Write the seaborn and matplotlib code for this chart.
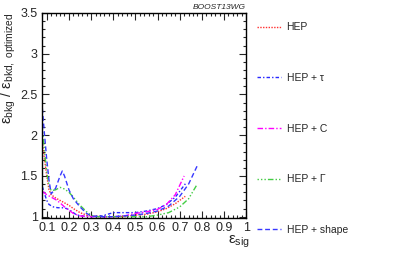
import matplotlib
matplotlib.use("Agg")
import matplotlib.pyplot as plt
import pandas as pd
import seaborn as sns
from matplotlib.ticker import MultipleLocator, FormatStrFormatter

# data (efficiency ratio vs signal efficiency)
hep_x = [0.08, 0.09, 0.10, 0.11, 0.12, 0.14, 0.16, 0.18, 0.20, 0.22, 0.25, 0.28, 0.30,
         0.35, 0.40, 0.45, 0.50, 0.55, 0.60, 0.64, 0.68, 0.725]
hep_y = [1.92, 1.70, 1.50, 1.33, 1.27, 1.23, 1.20, 1.17, 1.14, 1.10, 1.05, 1.02, 1.01,
         1.00, 1.00, 1.00, 1.02, 1.03, 1.06, 1.10, 1.16, 1.25]

tau_x = [0.08, 0.09, 0.10, 0.11, 0.13, 0.15, 0.17, 0.19, 0.21, 0.23, 0.25, 0.30, 0.35,
         0.40, 0.45, 0.50, 0.55, 0.60, 0.64, 0.68, 0.73]
tau_y = [1.37, 1.28, 1.20, 1.15, 1.12, 1.11, 1.11, 1.10, 1.07, 1.03, 1.01, 1.00, 1.01,
         1.05, 1.05, 1.05, 1.07, 1.10, 1.15, 1.24, 1.42]

c_x = [0.08, 0.10, 0.12, 0.14, 0.16, 0.18, 0.20, 0.22, 0.25, 0.30, 0.35, 0.40, 0.45,
       0.50, 0.55, 0.60, 0.64, 0.68, 0.72]
c_y = [1.31, 1.27, 1.24, 1.21, 1.17, 1.12, 1.08, 1.04, 1.01, 1.00, 1.00, 1.00, 1.01,
       1.04, 1.06, 1.09, 1.15, 1.27, 1.50]

gam_x = [0.08, 0.09, 0.10, 0.11, 0.12, 0.14, 0.16, 0.18, 0.20, 0.22, 0.25, 0.28, 0.30,
         0.32, 0.40, 0.50, 0.55, 0.60, 0.65, 0.70, 0.74, 0.775]
gam_y = [2.08, 1.80, 1.55, 1.38, 1.32, 1.33, 1.36, 1.34, 1.30, 1.24, 1.14, 1.06, 1.02,
         1.00, 1.00, 1.00, 1.00, 1.02, 1.05, 1.12, 1.22, 1.38]

shape_x = [0.08, 0.09, 0.10, 0.11, 0.12, 0.14, 0.16, 0.17, 0.18, 0.20, 0.22, 0.25, 0.28,
           0.30, 0.35, 0.40, 0.45, 0.50, 0.55, 0.60, 0.65, 0.70, 0.74, 0.78]
shape_y = [2.33, 2.00, 1.70, 1.45, 1.28, 1.35, 1.50, 1.56, 1.50, 1.33, 1.22, 1.12, 1.04,
           1.01, 1.00, 1.00, 1.01, 1.02, 1.04, 1.07, 1.13, 1.25, 1.40, 1.63]

labels = ["HEP", "HEP + \u03c4", "HEP + C", "HEP + \u0393", "HEP + shape"]
colors = ["#ff3030", "#2828ff", "#ff00ff", "#44cc44", "#3838ff"]
styles = [(0, (1, 1)), (0, (2.5, 1.5, 1, 1.5)), (0, (4, 1.5, 1, 1.5)),
          (0, (1, 1.5, 1, 1.5, 1, 1.5, 4, 1.5)), (0, (3.5, 2))]

df = pd.concat([
    pd.DataFrame({"eff_sig": x, "ratio": y, "method": lab})
    for x, y, lab in zip([hep_x, tau_x, c_x, gam_x, shape_x],
                         [hep_y, tau_y, c_y, gam_y, shape_y], labels)
])

sns.set_style("ticks")
plt.rcParams["font.family"] = ["Liberation Sans", "DejaVu Sans"]
plt.rcParams["mathtext.fontset"] = "custom"
plt.rcParams["mathtext.rm"] = "Liberation Sans"
plt.rcParams["mathtext.it"] = "Liberation Sans:italic"

fig = plt.figure(figsize=(3.99, 2.54), dpi=100)
ax = fig.add_axes([0.105, 0.142, 0.512, 0.807])

for lab, col, ls in zip(labels, colors, styles):
    sub = df[df["method"] == lab]
    sns.lineplot(data=sub, x="eff_sig", y="ratio", ax=ax, color=col,
                 linestyle=ls, linewidth=1.0, label=lab, legend=False)

ax.set_xlim(0.078, 1.0)
ax.set_ylim(0.985, 3.5)
ax.xaxis.set_major_locator(MultipleLocator(0.1))
ax.xaxis.set_minor_locator(MultipleLocator(0.02))
ax.yaxis.set_major_locator(MultipleLocator(0.5))
ax.yaxis.set_minor_locator(MultipleLocator(0.1))
ax.xaxis.set_major_formatter(FormatStrFormatter("%g"))
ax.yaxis.set_major_formatter(FormatStrFormatter("%g"))
ax.tick_params(which="both", direction="in", top=True, right=True,
               labelsize=9, width=0.8, pad=3)
ax.tick_params(which="major", length=5)
ax.tick_params(which="minor", length=2.5)
for sp in ax.spines.values():
    sp.set_linewidth(1.0)
    sp.set_color("black")

ax.set_xlabel("\u03b5$_{\\mathregular{sig}}$", fontsize=11, loc="right")
ax.xaxis.set_label_coords(1.02, -0.075)
ax.set_ylabel("\u03b5$_{\\mathregular{bkg}}$ / \u03b5$_{\\mathregular{bkd,\\ optimized}}$",
              fontsize=10.5, loc="top")
ax.yaxis.set_label_coords(-0.115, 1.0)

fig.text(0.617, 0.972, "BOOST13WG", fontsize=6, style="italic", ha="right", va="center")

handles, labs = ax.get_legend_handles_labels()
fig.legend(handles, labs, loc="upper left", bbox_to_anchor=(0.645, 0.912),
           frameon=False, fontsize=7.5, handlelength=2.3, handletextpad=0.5,
           labelspacing=3.9, borderaxespad=0, borderpad=0)

fig.savefig("out.png", dpi=100)
